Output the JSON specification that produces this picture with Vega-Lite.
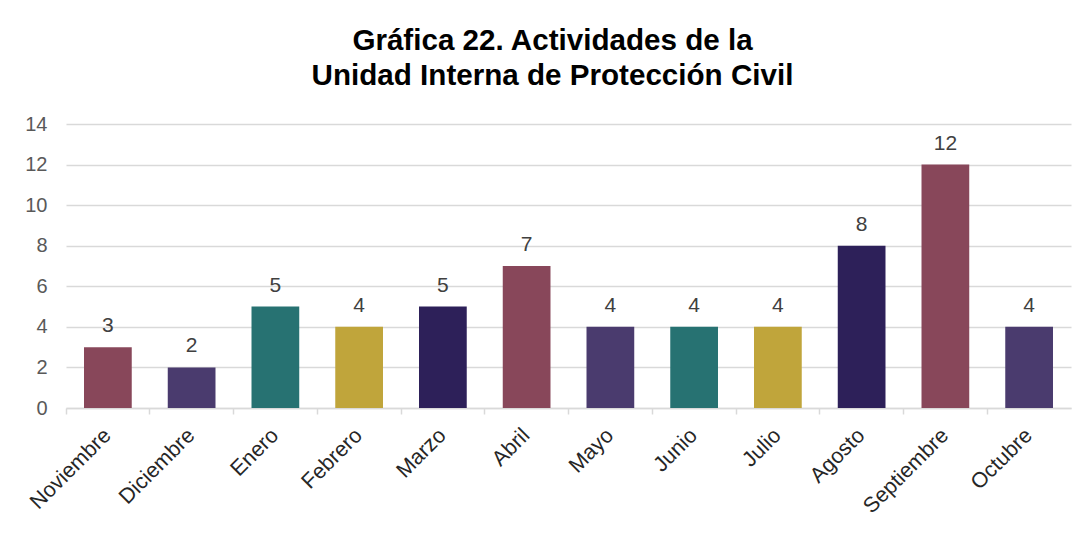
{
  "$schema": "https://vega.github.io/schema/vega-lite/v6.json",
  "autosize": {"type": "none"},
  "padding": {"left": 66, "top": 124, "right": 16, "bottom": 127},
  "width": 1005,
  "height": 284,
  "background": "white",
  "title": {
    "text": ["Gráfica 22. Actividades de la", "Unidad Interna de Protección Civil"],
    "font": "Liberation Sans",
    "fontSize": 29.6,
    "fontWeight": "bold",
    "color": "#000000",
    "anchor": "middle",
    "dx": -16,
    "offset": 22,
    "lineHeight": 35
  },
  "config": {
    "view": {"stroke": null},
    "font": "Liberation Sans"
  },
  "data": {
    "values": [
      {"mes": "Noviembre", "actividades": 3},
      {"mes": "Diciembre", "actividades": 2},
      {"mes": "Enero", "actividades": 5},
      {"mes": "Febrero", "actividades": 4},
      {"mes": "Marzo", "actividades": 5},
      {"mes": "Abril", "actividades": 7},
      {"mes": "Mayo", "actividades": 4},
      {"mes": "Junio", "actividades": 4},
      {"mes": "Julio", "actividades": 4},
      {"mes": "Agosto", "actividades": 8},
      {"mes": "Septiembre", "actividades": 12},
      {"mes": "Octubre", "actividades": 4}
    ]
  },
  "encoding": {
    "x": {
      "field": "mes",
      "type": "nominal",
      "sort": null,
      "scale": {"paddingInner": 0.43, "paddingOuter": 0.215},
      "axis": {
        "title": null,
        "labelAngle": -45,
        "labelAlign": "right",
        "labelBaseline": "middle",
        "labelFontSize": 21.5,
        "labelColor": "#262626",
        "labelPadding": 18,
        "domainColor": "#D9D9D9",
        "domainWidth": 1.5,
        "tickColor": "#D9D9D9",
        "tickWidth": 1.5,
        "tickSize": 6,
        "bandPosition": -0.377
      }
    },
    "y": {
      "field": "actividades",
      "type": "quantitative",
      "scale": {"domain": [0, 14]},
      "axis": {
        "title": null,
        "values": [0, 2, 4, 6, 8, 10, 12, 14],
        "labelFontSize": 20,
        "labelColor": "#595959",
        "labelPadding": 19,
        "ticks": false,
        "domain": false,
        "gridColor": "#D9D9D9",
        "gridWidth": 1.5
      }
    }
  },
  "layer": [
    {
      "mark": {"type": "bar"},
      "encoding": {
        "color": {
          "field": "mes",
          "type": "nominal",
          "legend": null,
          "scale": {
            "domain": ["Noviembre", "Diciembre", "Enero", "Febrero", "Marzo", "Abril", "Mayo", "Junio", "Julio", "Agosto", "Septiembre", "Octubre"],
            "range": ["#88475A", "#4A3B6E", "#277272", "#C0A53B", "#2D2059", "#88475A", "#4A3B6E", "#277272", "#C0A53B", "#2D2059", "#88475A", "#4A3B6E"]
          }
        }
      }
    },
    {
      "mark": {"type": "text", "baseline": "alphabetic", "dy": -15, "fontSize": 21, "color": "#404040"},
      "encoding": {
        "text": {"field": "actividades", "type": "quantitative"}
      }
    }
  ]
}
